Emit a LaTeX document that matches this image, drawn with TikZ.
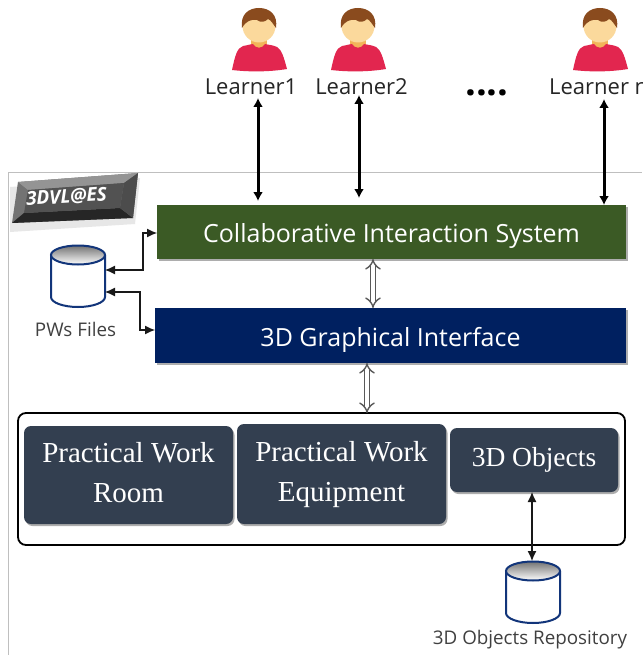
\documentclass[tikz,border=0pt]{standalone}
\usepackage{fontspec}
\setmainfont{Open Sans}
\newfontfamily\serifx{Liberation Serif}
\usetikzlibrary{arrows.meta,shadows,calc}
\definecolor{greenbox}{HTML}{3B5A25}
\definecolor{bluebox}{HTML}{002060}
\definecolor{slatebox}{HTML}{333F50}
\definecolor{cylblue}{HTML}{12357A}
\definecolor{skin}{HTML}{FBD99C}
\definecolor{neck}{HTML}{F2B45A}
\definecolor{hair}{HTML}{8A4B1E}
\definecolor{shirt}{HTML}{E2264F}
\newcommand{\lowered}[2]{\raisebox{-#1pt}[0pt][0pt]{#2}}
\tikzset{
  softshadow/.style={drop shadow={shadow xshift=1.5pt,shadow yshift=-2pt,fill=black,opacity=.32}},
  titlebox/.style={anchor=north west,inner sep=0pt,outer sep=0pt,text=white,font=\fontsize{25}{30}\selectfont,softshadow},
  slatenode/.style={anchor=north west,fill=slatebox,rounded corners=7pt,inner sep=0pt,outer sep=0pt,text=white,align=center,
     font=\serifx\fontsize{29}{40}\selectfont,softshadow},
  learnertext/.style={font=\fontsize{22}{26}\selectfont,text=black!85,inner sep=0pt},
  smalltext/.style={font=\fontsize{18.8}{22}\selectfont,text=black!75,inner sep=0pt},
  bold arrow/.style={line width=3pt,{Latex[length=9pt,width=10pt]}-{Latex[length=9pt,width=10pt]}},
  thin arrow/.style={line width=1.1pt,black!90,{Latex[length=10pt,width=9pt]}-{Latex[length=10pt,width=9pt]}},
  hollow arrow/.style={draw=black!65,double=white,line width=1.4pt,double distance=4pt,{Implies[]}-{Implies[]}},
}
\newcommand{\learnerfig}[2]{%
  \begin{scope}[shift={(#1,#2)}]
    \fill[neck] (-8,30) rectangle (8,48);
    \fill[shirt] (-27,70) .. controls (-24,56) and (-22,48) .. (-16,46)
       .. controls (-10,45) and (-8,44) .. (-6,44)
       .. controls (-3,49) and (3,49) .. (6,44)
       .. controls (10,45) and (14,45) .. (18,47)
       .. controls (23,50) and (25,58) .. (28,69)
       .. controls (10,72) and (-10,72) .. (-27,70) -- cycle;
    \fill[skin] (0,26) ellipse [x radius=16.5pt,y radius=16.5pt];
    \fill[hair] (-17,28) .. controls (-19,14) and (-10,8) .. (0,8)
       .. controls (11,8) and (19,15) .. (17,28)
       .. controls (14,24) and (12,20) .. (9,19)
       .. controls (6,22) and (2,23) .. (-2,20)
       .. controls (-8,19) and (-13,21) .. (-17,28) -- cycle;
  \end{scope}}
\newcommand{\cylfig}[2]{%
  \begin{scope}[shift={(#1,#2)}]
    \draw[cylblue,line width=2pt,fill=white] (0,10) -- (0,52) arc[start angle=180,end angle=360,x radius=27pt,y radius=10pt] -- (54,10);
    \shade[top color=black!55,bottom color=white,draw=cylblue,line width=2pt] (27,10) ellipse [x radius=27pt,y radius=9.5pt];
  \end{scope}}
\begin{document}
\begin{tikzpicture}[x=1pt,y=-1pt]
\useasboundingbox (0,0) rectangle (642,655);
\clip (0,0) rectangle (642,655);
\fill[white] (0,0) rectangle (642,655);
% frame
\draw[black!25,line width=.8pt] (8.5,655) -- (8.5,172.5) -- (642,172.5);
% learners
\learnerfig{259}{0}
\learnerfig{358}{0}
\learnerfig{600}{0}
\node[learnertext] (l1) at (251,87) {Learner1};
\node[learnertext] (l2) at (361.5,87) {Learner2};
\node[learnertext,anchor=west] (ln) at (549,87) {Learner n};
\node[font=\bfseries\fontsize{38}{40}\selectfont,inner sep=0pt] (dots) at (487,93) {....};
% badge
\fill[black!30,opacity=.3] (10,187) -- (140,178) -- (135,224) -- (10,232) -- cycle;
\fill[black!55] (18,182) -- (138,173) -- (133,218) -- (12,223) -- cycle;
\fill[black!42] (18,182) -- (138,173) -- (124,183) -- (28,190) -- cycle;
\fill[black!85] (12,223) -- (133,218) -- (120,208) -- (24,213) -- cycle;
\fill[black!70] (138,173) -- (133,218) -- (120,208) -- (124,183) -- cycle;
\fill[black!68] (28,190) -- (124,183) -- (120,208) -- (24,213) -- cycle;
\node[rotate=3.5,text=white,inner sep=0pt,font=\bfseries\itshape\fontsize{19}{22}\selectfont] (badge) at (66.5,197) {3DVL@ES};
% main bars
\node[titlebox,fill=greenbox,minimum width=469pt,minimum height=54pt] (cis) at (157,205) {\lowered{10}{Collaborative Interaction System}};
\node[titlebox,fill=bluebox,minimum width=471pt,minimum height=55pt] (gui) at (155,308) {\lowered{10.5}{3D Graphical Interface}};
% container
\node[anchor=north west,draw=black,line width=1.8pt,rounded corners=8pt,fill=white,minimum width=607pt,minimum height=132pt,inner sep=0pt,outer sep=0pt] (group) at (18,413) {};
\node[slatenode,minimum width=209pt,minimum height=98pt] (room) at (24,426) {\lowered{7}{Practical Work}\\\lowered{7}{Room}};
\node[slatenode,minimum width=209pt,minimum height=100pt] (equip) at (237,424) {\lowered{7}{Practical Work}\\\lowered{7}{Equipment}};
\node[slatenode,minimum width=168pt,minimum height=64pt,font=\serifx\fontsize{27.5}{32}\selectfont] (objs) at (450,428) {\lowered{6}{3D Objects}};
% cylinders
\cylfig{51}{245}
\cylfig{506}{561}
\node[anchor=north west,minimum width=54pt,minimum height=62pt,inner sep=0pt,outer sep=0pt] (pws) at (51,245) {};
\node[anchor=north west,minimum width=54pt,minimum height=62pt,inner sep=0pt,outer sep=0pt] (repo) at (506,561) {};
\node[smalltext] (pwl) at (75.5,329.5) {PWs Files};
\node[smalltext] (repol) at (530,640) {3D Objects Repository};
% helper coordinates
\coordinate (a1) at (258,0);
\coordinate (a2) at (359,0);
\coordinate (a3) at (604,0);
\coordinate (h1) at (373,0);
\coordinate (h2) at (367,0);
\coordinate (r1) at (532,0);
% connectors
\draw[bold arrow] (a1 |- 0,98) -- (a1 |- 0,201);
\draw[bold arrow] (a2 |- 0,95) -- (a2 |- 0,198);
\draw[bold arrow] (a3 |- 0,99) -- (a3 |- cis.north);
\draw[hollow arrow] (h1 |- cis.south) -- (h1 |- gui.north);
\draw[hollow arrow] (h2 |- gui.south) -- (h2 |- group.north);
\draw[thin arrow] (pws.east |- 0,270) -- (143,270) -- (143,233) -- (cis.west |- 0,233);
\draw[thin arrow] (pws.east |- 0,292) -- (140,292) -- (140,330) -- (gui.west |- 0,330);
\draw[thin arrow] (r1 |- objs.south) -- (r1 |- repo.north);
\end{tikzpicture}
\end{document}
